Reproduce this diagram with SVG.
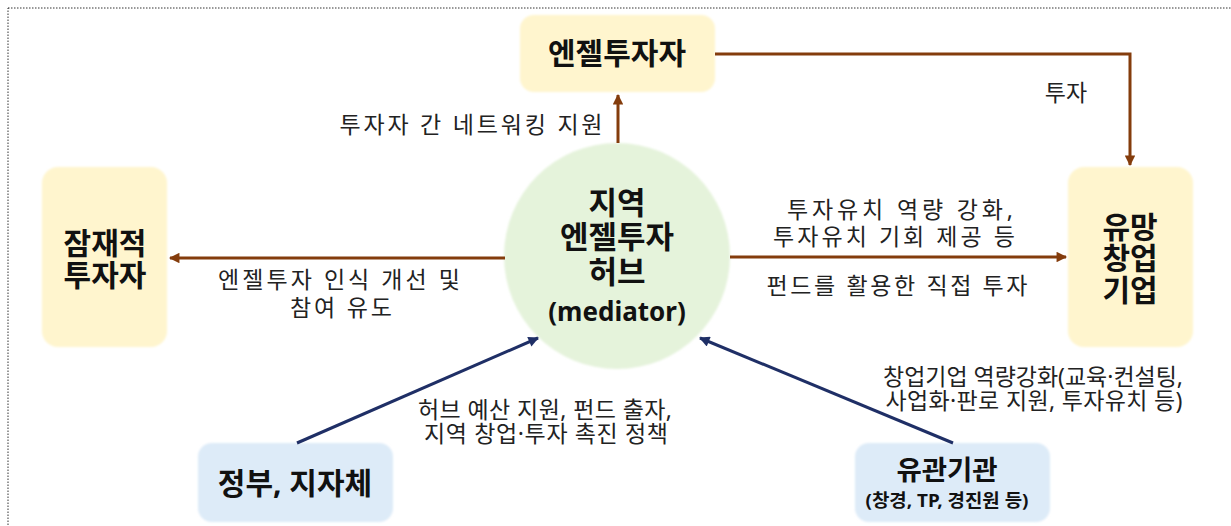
<svg xmlns="http://www.w3.org/2000/svg" width="1231" height="526" viewBox="0 0 1231 526">
<style>
  .lbl { font-family: "Noto Sans", "Noto Sans CJK KR", sans-serif; font-size: 23px; fill: #222; text-anchor: middle; }
  .nt { font-family: "Noto Sans", "Noto Sans CJK KR", sans-serif; font-size: 30px; font-weight: bold; fill: #111; text-anchor: middle; }
  .yel { fill: #FFF5CE; }
  .blu { fill: #DDEBF8; }
  .grn { fill: #E5F3DB; }
  .br { stroke: #843C0C; stroke-width: 3; fill: none; }
  .nv { stroke: #1F2F66; stroke-width: 3; fill: none; }
</style>
<defs>
  <filter id="soft" x="-10%" y="-10%" width="120%" height="120%">
    <feGaussianBlur stdDeviation="1.2"/>
  </filter>
  <marker id="ab" viewBox="0 0 10 10" refX="9" refY="5" markerWidth="4" markerHeight="3.5" orient="auto" markerUnits="strokeWidth">
    <path d="M0,0 L10,5 L0,10 Z" fill="#843C0C"/>
  </marker>
  <marker id="an" viewBox="0 0 10 10" refX="9" refY="5" markerWidth="4" markerHeight="3.5" orient="auto" markerUnits="strokeWidth">
    <path d="M0,0 L10,5 L0,10 Z" fill="#1F2F66"/>
  </marker>
</defs>
<rect x="8" y="8" width="1260" height="560" fill="none" stroke="#333" stroke-width="1" stroke-dasharray="1.5,1.5"/>

<g id="angel">
  <rect class="yel" x="520" y="15" width="195" height="77" rx="14" filter="url(#soft)"/>
  <text class="nt" x="617" y="64">엔젤투자자</text>
</g>
<g id="potential">
  <rect class="yel" x="42" y="167" width="125" height="180" rx="16" filter="url(#soft)"/>
  <text class="nt" x="105" y="254">잠재적</text>
  <text class="nt" x="105" y="286">투자자</text>
</g>
<g id="startup">
  <rect class="yel" x="1068" y="167" width="125" height="180" rx="16" filter="url(#soft)"/>
  <text class="nt" x="1130" y="238">유망</text>
  <text class="nt" x="1130" y="269">창업</text>
  <text class="nt" x="1130" y="301">기업</text>
</g>
<g id="hub">
  <circle class="grn" cx="617" cy="256" r="113" filter="url(#soft)"/>
  <text class="nt" x="617" y="214" style="font-size:31px">지역</text>
  <text class="nt" x="617" y="248" style="font-size:31px">엔젤투자</text>
  <text class="nt" x="617" y="283" style="font-size:31px">허브</text>
  <text class="nt" x="617" y="321" style="font-size:26px">(mediator)</text>
</g>
<g id="gov">
  <rect class="blu" x="198" y="443" width="195" height="79" rx="14" filter="url(#soft)"/>
  <text class="nt" x="295" y="494">정부, 지자체</text>
</g>
<g id="agency">
  <rect class="blu" x="855" y="443" width="195" height="79" rx="14" filter="url(#soft)"/>
  <text class="nt" x="947" y="480" style="font-size:27.5px">유관기관</text>
  <text class="nt" x="947" y="507" style="font-size:18px" textLength="163" lengthAdjust="spacingAndGlyphs">(창경, TP, 경진원 등)</text>
</g>

<g id="connectors">
  <line class="br" x1="618" y1="143" x2="618" y2="95" marker-end="url(#ab)"/>
  <polyline class="br" points="715,54 1130,54 1130,165" marker-end="url(#ab)"/>
  <line class="br" x1="505" y1="258" x2="170" y2="258" marker-end="url(#ab)"/>
  <line class="br" x1="730" y1="257" x2="1066" y2="257" marker-end="url(#ab)"/>
  <line class="nv" x1="297" y1="443" x2="538" y2="338" marker-end="url(#an)"/>
  <line class="nv" x1="953" y1="443" x2="700" y2="338" marker-end="url(#an)"/>
</g>

<g id="labels">
  <text class="lbl" x="471" y="133" textLength="263" lengthAdjust="spacing">투자자 간 네트워킹 지원</text>
  <text class="lbl" x="1066" y="101">투자</text>
  <text class="lbl" x="900" y="218" textLength="226" lengthAdjust="spacing">투자유치 역량 강화,</text>
  <text class="lbl" x="894" y="245" textLength="242" lengthAdjust="spacing">투자유치 기회 제공 등</text>
  <text class="lbl" x="897" y="294" textLength="261" lengthAdjust="spacing">펀드를 활용한 직접 투자</text>
  <text class="lbl" x="339" y="288" textLength="242" lengthAdjust="spacing">엔젤투자 인식 개선 및</text>
  <text class="lbl" x="341" y="316" textLength="102" lengthAdjust="spacing">참여 유도</text>
  <text class="lbl" x="545" y="418" textLength="254" lengthAdjust="spacing">허브 예산 지원, 펀드 출자,</text>
  <text class="lbl" x="546" y="442" textLength="244" lengthAdjust="spacing">지역 창업·투자 촉진 정책</text>
  <text class="lbl" x="1033" y="385" textLength="300" lengthAdjust="spacing">창업기업 역량강화(교육·컨설팅,</text>
  <text class="lbl" x="1034" y="409" textLength="297" lengthAdjust="spacing">사업화·판로 지원, 투자유치 등)</text>
</g>
</svg>
